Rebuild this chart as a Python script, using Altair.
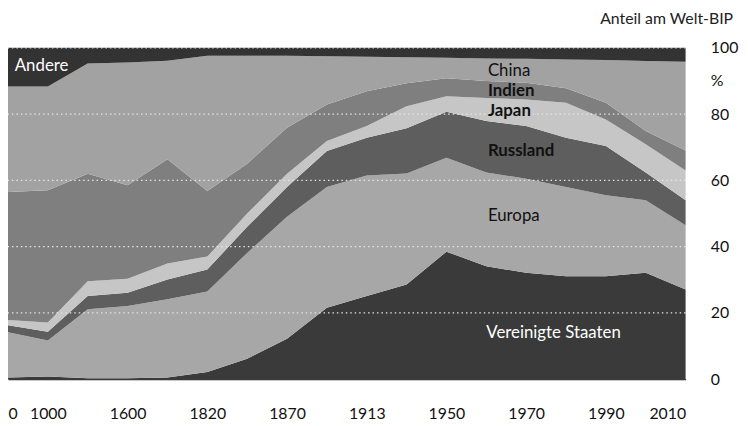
import altair as alt
import pandas as pd

# ---- data -------------------------------------------------------------
periods = ["0", "1000", "1500", "1600", "1700", "1820", "1850", "1870", "1890",
           "1913", "1929", "1950", "1960", "1970", "1980", "1990", "2000", "2010"]
shown_periods = ["0", "1000", "1600", "1820", "1870", "1913", "1950", "1970", "1990", "2010"]

series = ["Vereinigte Staaten", "Europa", "Russland", "Japan", "Indien", "China", "Andere"]
colors = ["#3a3a3a", "#a7a7a7", "#5e5e5e", "#c6c6c6", "#7f7f7f", "#a2a2a2", "#333333"]

us       = [0.5, 0.8, 0.3, 0.3, 0.5, 2.2, 6.2, 12.2, 21.6, 25.1, 28.6, 38.5, 34.1, 32.1, 31.1, 31.1, 32.1, 27.1]
europa   = [13.7, 10.9, 20.8, 21.8, 23.6, 24.3, 31.9, 36.8, 36.4, 36.4, 33.5, 28.3, 28.3, 28.4, 26.9, 24.4, 21.9, 19.4]
russland = [2.1, 2.6, 4.0, 4.0, 6.0, 6.6, 7.9, 9.0, 10.9, 11.4, 13.6, 13.9, 15.5, 15.9, 14.9, 14.9, 8.4, 7.5]
japan    = [1.6, 2.8, 4.5, 4.2, 4.8, 3.9, 4.0, 4.0, 3.0, 3.5, 6.7, 4.7, 7.0, 8.0, 10.5, 8.0, 8.5, 9.0]
indien   = [38.6, 39.9, 32.4, 28.2, 31.5, 19.8, 15.0, 13.9, 11.0, 10.5, 6.9, 5.4, 5.1, 5.1, 4.4, 5.0, 4.0, 6.0]
china    = [31.8, 31.3, 33.3, 37.1, 29.7, 40.8, 32.6, 21.7, 14.6, 10.4, 7.9, 6.2, 6.8, 7.2, 8.7, 12.9, 21.1, 26.8]
andere   = [11.7, 11.7, 4.7, 4.4, 3.9, 2.4, 2.4, 2.4, 2.5, 2.7, 2.8, 3.0, 3.2, 3.3, 3.5, 3.7, 4.0, 4.2]

grid_values = [20, 40, 60, 80, 100]
y_tick_values = [0, 20, 40, 60, 80, 90, 100]
y_title = "Anteil am Welt-BIP"

label_text = ["Andere", "China", "Indien", "Japan", "Russland", "Europa", "Vereinigte Staaten"]
label_period_pos = [0.17, 12.04, 12.04, 12.04, 12.04, 12.04, 12.0]
label_share_pos = [93.0, 91.6, 85.6, 79.3, 67.5, 47.8, 12.4]
label_color = ["white", "#111111", "#111111", "#111111", "#111111", "#111111", "white"]
label_bold = [False, False, True, True, True, False, False]

# ---- tables -----------------------------------------------------------
values = [us, europa, russland, japan, indien, china, andere]
rows = []
for k, (name, vals) in enumerate(zip(series, values)):
    for i, v in enumerate(vals):
        rows.append({"idx": i, "period": periods[i], "series": name, "order": k, "share": v})
df = pd.DataFrame(rows)

df_grid = pd.DataFrame({"v": grid_values})
df_lab = pd.DataFrame({"idx": label_period_pos, "share": label_share_pos, "text": label_text,
                       "col": label_color, "bold": label_bold})

shown_idx = [periods.index(p) for p in shown_periods]
period_js = "[" + ",".join("'%s'" % p for p in periods) + "]"

FONT = "Lato"
x_scale = alt.Scale(domain=[0, len(periods) - 1], nice=False, zero=False)
y_scale = alt.Scale(domain=[0, 100], nice=False)
x_axis = alt.Axis(values=shown_idx, labelExpr=period_js + "[datum.value]", title=None,
                  grid=False, ticks=False, domain=True, domainColor="#000000", domainWidth=1,
                  labelFlush=True, labelPadding=27, labelFontSize=16, labelFont=FONT,
                  labelColor="#111111", labelBaseline="top")
y_axis = alt.Axis(orient="right", values=y_tick_values,
                  labelExpr="datum.value == 90 ? '%' : datum.label", title=None,
                  grid=False, ticks=False, domain=False, labelAlign="left", labelPadding=25,
                  labelFontSize=16, labelFont=FONT, labelColor="#111111", labelBaseline="middle")

areas = alt.Chart(df).mark_area(interpolate="linear").encode(
    x=alt.X("idx:Q", scale=x_scale, axis=x_axis),
    y=alt.Y("share:Q", stack="zero", scale=y_scale, axis=y_axis),
    color=alt.Color("series:N", scale=alt.Scale(domain=series, range=colors), legend=None),
    order=alt.Order("order:Q", sort="ascending"),
)

grid = alt.Chart(df_grid).mark_rule(color="#e6e6e6", strokeDash=[1.5, 3], strokeWidth=1.3).encode(
    y=alt.Y("v:Q", scale=y_scale, axis=y_axis)
)


def label_layer(bold):
    return alt.Chart(df_lab).transform_filter(
        alt.datum.bold == bold
    ).mark_text(align="left", baseline="alphabetic", font=FONT, fontSize=17,
                fontWeight="bold" if bold else "normal").encode(
        x=alt.X("idx:Q", scale=x_scale, axis=x_axis),
        y=alt.Y("share:Q", scale=y_scale, axis=y_axis),
        text="text:N",
        color=alt.Color("col:N", scale=None),
    )


title = alt.Chart(pd.DataFrame({"t": [y_title]})).mark_text(
    align="right", baseline="top", font=FONT, fontSize=16, color="#222222"
).encode(text="t:N", x=alt.value(733), y=alt.value(-37))

chart = alt.layer(areas, grid, label_layer(False), label_layer(True), title).properties(
    width=685, height=335,
    padding={"left": 0, "top": 38, "right": 55, "bottom": 45},
    autosize=alt.AutoSizeParams(type="none"),
    background="white",
).configure_view(stroke=None)

chart.save("out.html", embed_options={"renderer": "svg", "actions": False})
